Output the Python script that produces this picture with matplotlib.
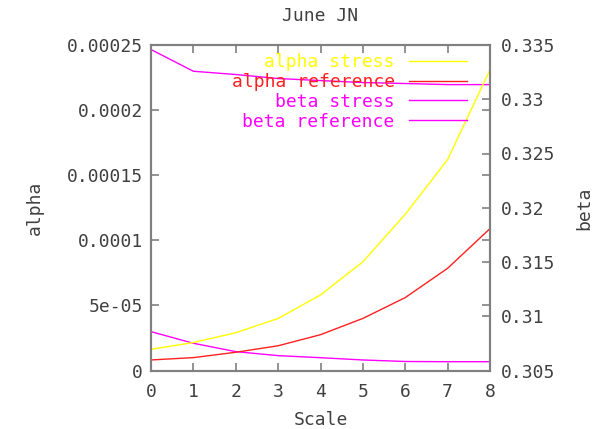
import matplotlib
matplotlib.use("Agg")
import matplotlib.pyplot as plt
from matplotlib.ticker import FixedLocator, FixedFormatter

scale = [0, 1, 2, 3, 4, 5, 6, 7, 8]
alpha_stress = [1.63e-5, 2.15e-5, 2.9e-5, 4.0e-5, 5.8e-5, 8.35e-5, 1.2e-4, 1.62e-4, 2.31e-4]
alpha_reference = [8.1e-6, 9.9e-6, 1.4e-5, 1.9e-5, 2.75e-5, 4.0e-5, 5.6e-5, 7.85e-5, 1.09e-4]
beta_stress = [0.33458, 0.33258, 0.33228, 0.33191, 0.33172, 0.33154, 0.33145, 0.33135, 0.33135]
beta_reference = [0.30858, 0.30751, 0.30674, 0.30637, 0.30618, 0.30597, 0.30583, 0.30581, 0.30581]

alpha_ticks = [0, 5e-05, 0.0001, 0.00015, 0.0002, 0.00025]
alpha_tick_labels = ["0", "5e-05", "0.0001", "0.00015", "0.0002", "0.00025"]
beta_ticks = [0.305, 0.31, 0.315, 0.32, 0.325, 0.33, 0.335]
beta_tick_labels = ["0.305", "0.31", "0.315", "0.32", "0.325", "0.33", "0.335"]

FONT = "DejaVu Sans Mono"
FS = 13
TXT = "#404040"
GRAY = "#808080"

fig = plt.figure(figsize=(6.02, 4.29), dpi=100)
ax = fig.add_axes([151/602, 1 - 370.5/429, (490-151)/602, (370.5-45)/429])
ax2 = ax.twinx()

l1, = ax.plot(scale, alpha_stress, color="#ffff00", lw=1.0, label="alpha stress")
l2, = ax.plot(scale, alpha_reference, color="#ff2020", lw=1.0, label="alpha reference")
l3, = ax2.plot(scale, beta_stress, color="#ff00ff", lw=1.0, label="beta stress")
l4, = ax2.plot(scale, beta_reference, color="#ff00ff", lw=1.0, label="beta reference")

ax.set_xlim(0, 8)
ax.set_ylim(0, 0.00025)
ax2.set_ylim(0.305, 0.335)

ax.xaxis.set_major_locator(FixedLocator(scale))
ax.set_xticklabels([str(s) for s in scale])
ax.yaxis.set_major_locator(FixedLocator(alpha_ticks))
ax.yaxis.set_major_formatter(FixedFormatter(alpha_tick_labels))
ax2.yaxis.set_major_locator(FixedLocator(beta_ticks))
ax2.yaxis.set_major_formatter(FixedFormatter(beta_tick_labels))

for a in (ax, ax2):
    for s in a.spines.values():
        s.set_color(GRAY)
        s.set_linewidth(1.5)
ax.tick_params(axis="both", direction="in", length=6, width=1.2, color=GRAY,
               labelsize=FS, labelcolor=TXT, top=True, right=True)
ax.tick_params(axis="x", pad=9)
ax.tick_params(axis="y", pad=6)
ax2.tick_params(axis="y", direction="in", length=6, width=1.2, color=GRAY,
                labelsize=FS, labelcolor=TXT, pad=8)
for lab in ax.get_xticklabels() + ax.get_yticklabels() + ax2.get_yticklabels():
    lab.set_family(FONT)

ax.set_title("June JN", family=FONT, fontsize=FS, color=TXT, pad=17)
ax.set_xlabel("Scale", family=FONT, fontsize=FS, color=TXT, labelpad=7)
ax.set_ylabel("alpha", family=FONT, fontsize=FS, color=TXT, labelpad=16)
ax2.set_ylabel("beta", family=FONT, fontsize=FS, color=TXT, labelpad=14)

leg = ax.legend(handles=[l1, l2, l3, l4], loc="upper right",
                bbox_to_anchor=(0.932, 0.975), frameon=False, markerfirst=False,
                prop={"family": FONT, "size": FS}, labelcolor="linecolor",
                handlelength=3.2, handletextpad=0.8, labelspacing=0.1,
                borderpad=0, borderaxespad=0)
ax2.set_zorder(ax.get_zorder() - 1)
ax.patch.set_visible(False)
ax2.patch.set_visible(True)
ax2.patch.set_facecolor("white")

fig.savefig("out.png", dpi=100)
